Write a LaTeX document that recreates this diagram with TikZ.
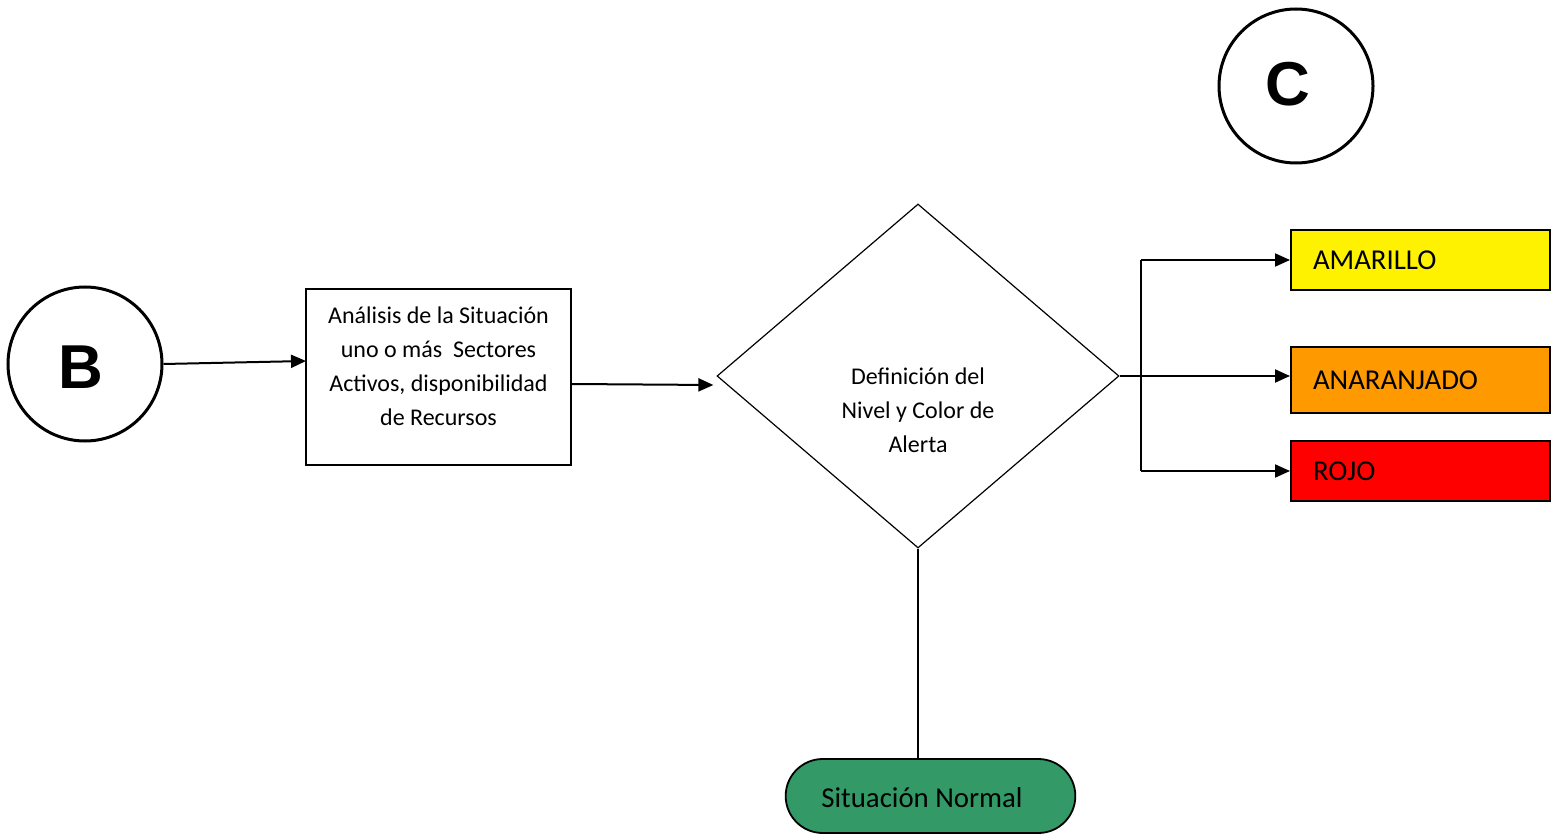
\documentclass[tikz,border=0pt]{standalone}
\usepackage{fontspec}
\setmainfont{Carlito}
\newfontfamily\arialfont{Liberation Sans}
\usetikzlibrary{shapes.geometric, shapes.misc, arrows.meta}
\newcommand{\amar}{yellow}
\definecolor{naranja}{HTML}{FF9900}
\definecolor{verde}{HTML}{339966}
\tikzset{
    conector/.style = {circle, draw, line width=1.5pt, minimum size=77pt, inner sep=0pt, font=\arialfont\bfseries\fontsize{31}{31}\selectfont},
    caja/.style = {rectangle, draw, line width=1pt, minimum width=132.5pt, minimum height=88pt},
    texto/.style = {align=center, font=\fontsize{12}{17}\selectfont},
    alerta/.style = {rectangle, draw, line width=1pt, text width=107.5pt, inner xsep=11pt, align=left, font=\fontsize{14.4}{16}\selectfont},
    flecha/.style = {line width=1pt, -{Triangle[length=7.5pt,width=6.5pt]}}
}
\begin{document}
\begin{tikzpicture}[x=0.5pt, y=-0.5pt]
        \useasboundingbox (0,0) rectangle (1558,834);
        %\draw[help lines] (0,0) grid (1558,834);
        \node[conector] (B) at (85,364) {\hspace{-4pt}\raisebox{-1.2pt}[22pt][0pt]{B}};
        \node[conector] (C) at (1296,86) {\hspace{-8pt}\raisebox{2pt}{C}};
        \node[caja] (anal) at (438.5,377) {};
        \node[texto] (analtxt) at (438.5,366) {An\'alisis de la Situaci\'on\\uno o m\'as\ \ Sectores\\Activos, disponibilidad\\de Recursos};
        \node[diamond, draw, line width=0.6pt, inner sep=0pt, minimum width=201pt, minimum height=172pt] (dec) at (918,376) {};
        \node[texto] (dectxt) at (918,410) {Definici\'on del\\Nivel y Color de\\Alerta};
        \node[alerta, fill=\amar, minimum height=30pt] (ama) at (1420.5,260) {AMARILLO};
        \node[alerta, fill=naranja, minimum height=33pt] (nar) at (1420.5,380) {ANARANJADO};
        \node[alerta, fill=red, minimum height=30pt] (rojo) at (1420.5,471) {ROJO};
        \node[rounded rectangle, draw, line width=0.9pt, fill=verde, minimum width=151.5pt, minimum height=37pt, font=\fontsize{14.4}{16}\selectfont] (normal) at (930.5,796) {\hspace{-8.5pt}\raisebox{-2pt}[10pt][3pt]{Situaci\'on Normal}};
        \coordinate (entra) at (306,361);
        \coordinate (rama) at (1141,376);
        \draw[flecha] (B.east) -- (entra);
        \draw[flecha] ([yshift=-3.5pt]anal.east) -- ([xshift=-1.5pt,yshift=-4.5pt]dec.west);
        \draw[flecha] (dec.east) -- (nar.west |- dec.east);
        \draw[line width=1pt] (rama |- ama.west) -- (rama |- rojo.west);
        \draw[flecha] (rama |- ama.west) -- (ama.west);
        \draw[flecha] (rama |- rojo.west) -- (rojo.west);
        \draw[line width=1pt] (dec.south) -- (dec.south |- normal.north);
    \end{tikzpicture}
\end{document}
